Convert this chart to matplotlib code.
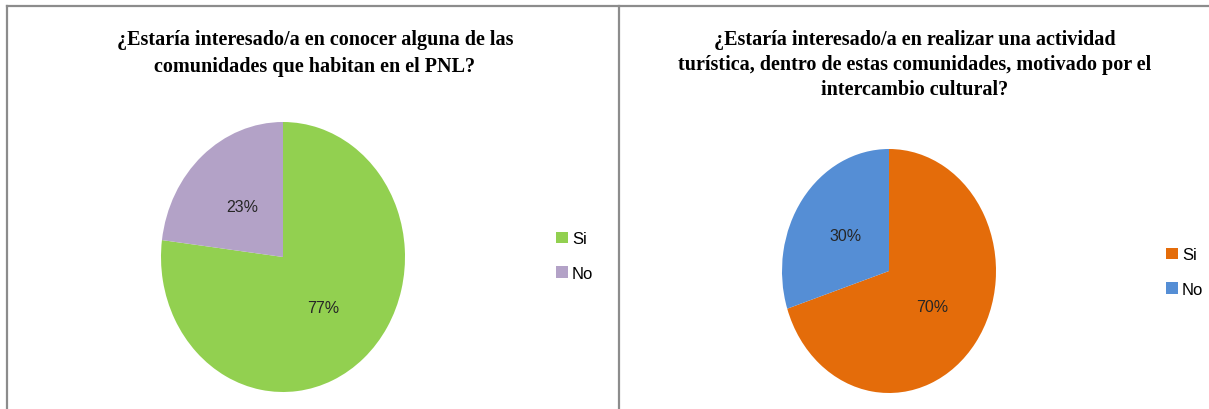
import matplotlib
matplotlib.use('Agg')
import matplotlib.pyplot as plt
from matplotlib.lines import Line2D
from matplotlib.patches import Patch

W, H = 1209, 410

labels = ['Si', 'No']
values_1 = [77, 23]
values_2 = [70, 30]
colors_1 = ['#92D050', '#B3A2C7']
colors_2 = ['#E46C0A', '#558ED5']
title_1 = '¿Estaría interesado/a en conocer alguna de las\ncomunidades que habitan en el PNL?'
title_2 = ('¿Estaría interesado/a en realizar una actividad\n'
           'turística, dentro de estas comunidades, motivado por el\n'
           'intercambio cultural?')

label_font = ['Liberation Sans', 'DejaVu Sans']
title_font = ['Liberation Serif', 'DejaVu Serif']

fig = plt.figure(figsize=(W / 100, H / 100), dpi=100)


def px_axes(x0, y0, x1, y1):
    # pixel box (top-left origin) -> figure fraction axes
    return fig.add_axes([x0 / W, 1 - y1 / H, (x1 - x0) / W, (y1 - y0) / H])


def draw_pie(box, values, colors, title, title_x, title_y, spacing, leg_x, leg_y):
    ax = px_axes(*box)
    ax.pie(values, colors=colors, startangle=90, counterclock=False,
           autopct='%d%%', pctdistance=0.5,
           textprops={'family': label_font, 'fontsize': 11.5, 'color': '#262626'},
           wedgeprops={'linewidth': 0})
    ax.set_aspect('auto')
    ax.set_xlim(-1, 1)
    ax.set_ylim(-1, 1)
    ax.axis('off')
    fig.text(title_x / W, 1 - title_y / H, title, ha='center', va='top',
             family=title_font, fontweight='bold', fontsize=14.5,
             linespacing=spacing)
    handles = [Patch(facecolor=c, edgecolor='none') for c in colors]
    fig.legend(handles, labels, loc='center left',
               bbox_to_anchor=(leg_x / W, 1 - leg_y / H),
               frameon=False, handlelength=0.7, handleheight=0.7,
               handletextpad=0.25, labelspacing=1.15,
               prop={'family': label_font, 'size': 12})


draw_pie((161, 123, 405, 393), values_1, colors_1, title_1, 315, 30, 1.45, 541, 257)
draw_pie((782, 150, 996, 394), values_2, colors_2, title_2, 915, 30, 1.33, 1151, 273)

# frame lines
line_kw = dict(color='#8c8c8c', linewidth=1.6, transform=fig.transFigure)
fig.add_artist(Line2D([7 / W, 1], [1 - 7 / H, 1 - 7 / H], **line_kw))
fig.add_artist(Line2D([7 / W, 7 / W], [0, 1 - 7 / H], **line_kw))
fig.add_artist(Line2D([619 / W, 619 / W], [0, 1 - 7 / H], **line_kw))

fig.savefig('out.png', dpi=100)
